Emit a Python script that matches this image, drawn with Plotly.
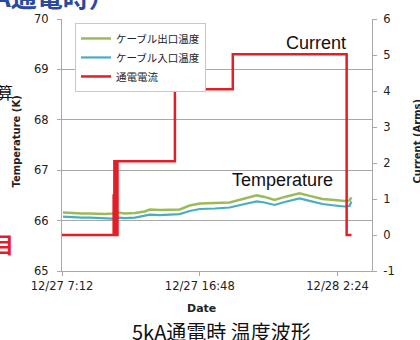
import plotly.graph_objects as go

# ---- data ----
temp_times = ["2012-12-27 07:16", "2012-12-27 07:40", "2012-12-27 08:06", "2012-12-27 08:35",
              "2012-12-27 09:09", "2012-12-27 09:40", "2012-12-27 10:11", "2012-12-27 10:41",
              "2012-12-27 11:06", "2012-12-27 11:35", "2012-12-27 12:17", "2012-12-27 12:58",
              "2012-12-27 13:19", "2012-12-27 14:01", "2012-12-27 14:43", "2012-12-27 15:24",
              "2012-12-27 16:06", "2012-12-27 16:48", "2012-12-27 17:51", "2012-12-27 18:53",
              "2012-12-27 19:56", "2012-12-27 20:46", "2012-12-27 21:19", "2012-12-27 22:01",
              "2012-12-27 22:43", "2012-12-27 23:45", "2012-12-28 00:27", "2012-12-28 01:21",
              "2012-12-28 02:12", "2012-12-28 02:53", "2012-12-28 03:14", "2012-12-28 03:22"]
outlet_temp = [66.16, 66.15, 66.15, 66.14, 66.14, 66.13, 66.13, 66.14,
               66.16, 66.14, 66.15, 66.18, 66.22, 66.21, 66.21, 66.22,
               66.30, 66.34, 66.35, 66.36, 66.44, 66.50, 66.47, 66.41,
               66.47, 66.54, 66.49, 66.43, 66.41, 66.39, 66.40, 66.46]
inlet_temp = [66.08, 66.07, 66.07, 66.06, 66.06, 66.05, 66.05, 66.04,
              66.06, 66.05, 66.06, 66.09, 66.12, 66.11, 66.12, 66.13,
              66.19, 66.23, 66.24, 66.26, 66.33, 66.38, 66.36, 66.31,
              66.37, 66.44, 66.39, 66.33, 66.30, 66.28, 66.29, 66.38]

current_times = ["2012-12-27 07:12", "2012-12-27 10:48", "2012-12-27 10:49", "2012-12-27 10:51",
                 "2012-12-27 10:54", "2012-12-27 10:57", "2012-12-27 11:00", "2012-12-27 11:04",
                 "2012-12-27 15:04", "2012-12-27 19:06", "2012-12-28 03:02", "2012-12-28 03:22"]
current_vals = [0, 1.1, 0, 2.05, 0, 2.05, 0, 2.05, 4.05, 5.02, 0, 0]

series_names = ["ケーブル出口温度", "ケーブル入口温度", "通電電流"]
x_tick_vals = ["2012-12-27 07:12", "2012-12-27 16:48", "2012-12-28 02:24"]
x_tick_text = ["12/27 7:12", "12/27 16:48", "12/28 2:24"]
x_range = ["2012-12-27 07:12", "2012-12-28 04:48"]
y2_tick_vals = [-1, 0, 1, 2, 3, 4, 5, 6]
y2_tick_text = ["-1", "0", "1", "2", "3", "4", "5", "6"]

W, H = 420, 340
L, R, T, B = 62, 48, 16, 69
pw, ph = W - L - R, H - T - B


def px(x):
    return (x - L) / pw


def py(y):
    return (H - B - y) / ph


tick_font = dict(family="DejaVu Sans", size=11.5, color="#222222")
grid_col = "#a8a8a8"

fig = go.Figure()
fig.add_trace(go.Scatter(x=temp_times, y=outlet_temp, name=series_names[0], mode="lines",
                         line=dict(color="#9bbb59", width=2.5)))
fig.add_trace(go.Scatter(x=temp_times, y=inlet_temp, name=series_names[1], mode="lines",
                         line=dict(color="#4bacc6", width=2.2)))
fig.add_trace(go.Scatter(x=current_times, y=current_vals, name=series_names[2], mode="lines",
                         line=dict(color="#e41e26", width=2.5, shape="hv"), yaxis="y2"))

fig.update_layout(
    width=W, height=H,
    margin=dict(l=L, r=R, t=T, b=B, pad=0),
    paper_bgcolor="white", plot_bgcolor="white",
    showlegend=True,
    legend=dict(x=px(75), y=py(20), xanchor="left", yanchor="top",
                bgcolor="white", bordercolor="#c8c8c8", borderwidth=1,
                font=dict(family="Noto Sans CJK JP", size=10.5, color="#222222"),
                tracegroupgap=0, itemwidth=30),
    xaxis=dict(type="date", range=x_range, tickvals=x_tick_vals, ticktext=x_tick_text,
               showgrid=False, showline=True, linecolor=grid_col, linewidth=1,
               ticks="outside", ticklen=4, tickcolor=grid_col, tickfont=tick_font,
               zeroline=False),
    yaxis=dict(range=[65, 70], dtick=1, showgrid=True, gridcolor=grid_col, gridwidth=1,
               showline=True, linecolor=grid_col, ticks="outside", ticklen=4,
               tickcolor=grid_col, tickfont=tick_font, zeroline=False,
               ticklabelstandoff=6),
    yaxis2=dict(range=[-1, 6], overlaying="y", side="right", tickvals=y2_tick_vals,
                ticktext=y2_tick_text, showgrid=False, showline=True, linecolor=grid_col,
                ticks="outside", ticklen=4, tickcolor=grid_col, tickfont=tick_font,
                zeroline=False, ticklabelstandoff=4),
)

annotations = [
    dict(text="Current", x=px(316), y=py(40), font=dict(family="Liberation Sans", size=18, color="#111111")),
    dict(text="Temperature", x=px(282), y=py(179), font=dict(family="Liberation Sans", size=18, color="#111111")),
    dict(text="<b>Date</b>", x=px(201), y=py(309), font=dict(family="DejaVu Sans", size=11, color="#222222")),
    dict(text="<b>Temperature (K)</b>", x=px(17), y=py(140), textangle=-90,
         font=dict(family="DejaVu Sans", size=10, color="#222222")),
    dict(text="<b>Current (Arms)</b>", x=px(418), y=py(140), textangle=-90,
         font=dict(family="DejaVu Sans", size=10, color="#222222")),
    dict(text="5kA通電時 温度波形", x=px(221), y=py(332),
         font=dict(family="Noto Sans CJK JP", size=20, color="#111111")),
    dict(text="<b>5kA通電時）</b>", x=px(117), y=py(-8), xanchor="right", yanchor="middle",
         font=dict(family="Noto Sans CJK JP", size=26, color="#2a4a9c")),
    dict(text="算", x=px(5), y=py(90), font=dict(family="Noto Sans CJK JP", size=16, color="#111111")),
    dict(text="<b>目</b>", x=px(3), y=py(243), font=dict(family="Noto Sans CJK JP", size=22, color="#e41e26")),
]
for a in annotations:
    a.setdefault("xanchor", "center")
    a.setdefault("yanchor", "middle")
    fig.add_annotation(xref="paper", yref="paper", showarrow=False, **a)

fig.write_html("out.html", config={"displayModeBar": False},
               post_script="document.body.style.margin='0';")
